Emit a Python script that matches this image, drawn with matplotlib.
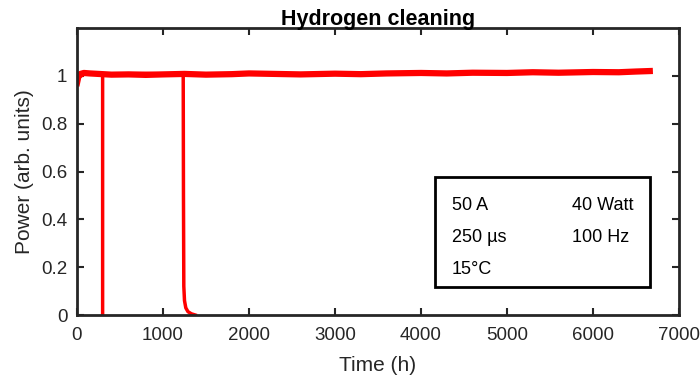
import matplotlib.pyplot as plt
from matplotlib.patches import Rectangle

plt.rcParams['font.family'] = ['Liberation Sans', 'DejaVu Sans']

# long-running sample
t_long = [0, 15, 40, 80, 150, 250, 400, 600, 800, 1000, 1250, 1500, 1800, 2000, 2300, 2600,
          3000, 3300, 3600, 4000, 4300, 4600, 5000, 5300, 5600, 6000, 6300, 6500, 6660]
p_long = [0.97, 0.995, 1.008, 1.012, 1.01, 1.008, 1.005, 1.006, 1.004, 1.006, 1.008, 1.005,
          1.007, 1.01, 1.008, 1.006, 1.009, 1.007, 1.01, 1.012, 1.01, 1.013, 1.012, 1.015,
          1.013, 1.016, 1.015, 1.018, 1.02]

# sample failing at ~300 h
t_a = [0, 30, 100, 200, 298, 298]
p_a = [0.985, 1.008, 1.012, 1.01, 1.01, -0.05]

# sample failing at ~1240 h
t_b = [0, 100, 400, 800, 1100, 1235, 1238, 1242, 1250, 1265, 1290, 1330, 1375]
p_b = [0.99, 1.01, 1.008, 1.01, 1.008, 1.01, 0.5, 0.12, 0.06, 0.03, 0.014, 0.005, 0.0]

box_left = ['50 A', '250 µs', '15°C']
box_right = ['40 Watt', '100 Hz']

fig = plt.figure(figsize=(7, 3.81), dpi=100)
ax = fig.add_axes([77 / 700, 1 - 315 / 381, 602 / 700, 287 / 381])

red = '#ff0000'
ax.plot(t_a, p_a, color=red, lw=2.5, solid_capstyle='butt')
ax.plot(t_b, p_b, color=red, lw=2.5)
ax.plot(t_long, p_long, color=red, lw=4.5)

ax.set_xlim(0, 7000)
ax.set_ylim(0, 1.2)
ax.set_xticks(range(0, 7001, 1000))
ax.set_yticks([0, 0.2, 0.4, 0.6, 0.8, 1])
ax.set_yticklabels(['0', '0.2', '0.4', '0.6', '0.8', '1'])

dark = '#262626'
for s in ax.spines.values():
    s.set_linewidth(2)
    s.set_color(dark)
ax.tick_params(direction='in', length=5, width=1.5, top=True, right=True,
               labelsize=13.5, colors=dark)
ax.tick_params(axis='x', pad=9)
ax.tick_params(axis='y', pad=7)

ax.set_xlabel('Time (h)', fontsize=15, color=dark, labelpad=8)
ax.set_ylabel('Power (arb. units)', fontsize=15, color=dark, labelpad=5)
ax.set_title('Hydrogen cleaning', fontsize=15.5, fontweight='bold', pad=2)

# parameter box
ax.add_patch(Rectangle((358 / 602, 28 / 287), 215 / 602, 110 / 287, transform=ax.transAxes,
                       fill=False, lw=2, ec='black', zorder=5))
rows = [206, 238, 270]
for lbl, yy in zip(box_left, rows):
    ax.text((452 - 77) / 602, (315 - yy) / 287, lbl, transform=ax.transAxes,
            fontsize=13, va='center', ha='left')
for lbl, yy in zip(box_right, rows):
    ax.text((572 - 77) / 602, (315 - yy) / 287, lbl, transform=ax.transAxes,
            fontsize=13, va='center', ha='left')

fig.savefig('out.png', dpi=100)
